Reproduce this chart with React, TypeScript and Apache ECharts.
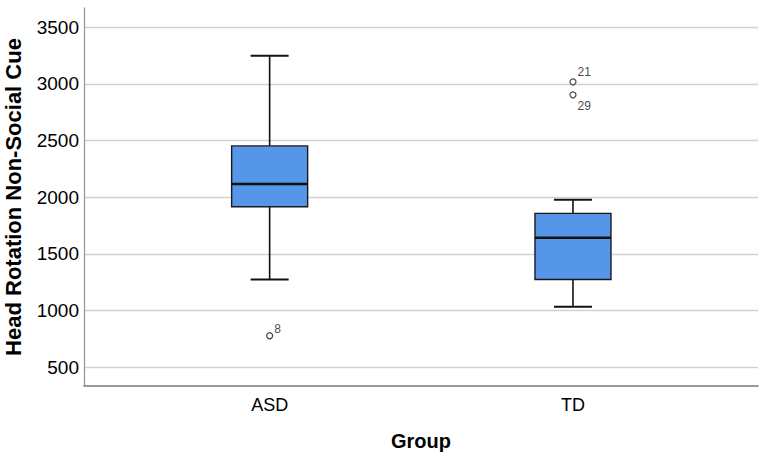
import React, { useEffect, useRef } from "react";
import * as echarts from "echarts";

const categories = ["ASD", "TD"];
// [categoryIndex, lowerWhisker, Q1, median, Q3, upperWhisker]
const boxStats = [
  [0, 1274, 1916, 2116, 2452, 3247],
  [1, 1033, 1274, 1642, 1857, 1977],
];
// outliers: [categoryIndex, value, caseLabel]
const outliers: [number, number, string][] = [
  [0, 778, "8"],
  [1, 3017, "21"],
  [1, 2902, "29"],
];
const yTicks = [500, 1000, 1500, 2000, 2500, 3000, 3500];
const xTicks = [0, 1];

export default function App() {
  const ref = useRef<HTMLDivElement>(null);
  useEffect(() => {
    if (!ref.current) return;
    const chart = echarts.init(ref.current, undefined, { renderer: "svg" });
    const font = "'Liberation Sans', Arial, sans-serif";
    const labelOffsets: Record<string, [number, number]> = {
      "8": [0, -7],
      "21": [0, -10],
      "29": [0, 11],
    };
    chart.setOption({
      animation: false,
      backgroundColor: "#ffffff",
      grid: {
        left: 84,
        right: 7,
        top: 8,
        bottom: 76,
        containLabel: false,
        outerBoundsMode: "none",
      },
      xAxis: {
        type: "value",
        min: -0.612,
        max: 1.61,
        name: "Group",
        nameLocation: "middle",
        nameGap: 45,
        nameTextStyle: { fontFamily: font, fontSize: 20, fontWeight: "bold", color: "#000" },
        axisLine: { show: true, onZero: false, lineStyle: { color: "#7a7a7a", width: 1.5 } },
        axisTick: { show: false, customValues: xTicks },
        splitLine: { show: false },
        axisLabel: {
          customValues: xTicks,
          formatter: (v: number) => categories[Math.round(v)] ?? "",
          fontFamily: font,
          fontSize: 18,
          color: "#000",
          margin: 10,
        },
      },
      yAxis: {
        type: "value",
        min: 335,
        max: 3668,
        name: "Head Rotation Non-Social Cue",
        nameLocation: "middle",
        nameGap: 60,
        nameTextStyle: { fontFamily: font, fontSize: 22, fontWeight: "bold", color: "#000" },
        axisLine: { show: true, onZero: false, lineStyle: { color: "#9a9a9a", width: 1.3 } },
        axisTick: { show: false, customValues: yTicks },
        axisLabel: {
          customValues: yTicks,
          formatter: (v: number) => String(v),
          fontFamily: font,
          fontSize: 19,
          color: "#000",
          margin: 5,
        },
        splitLine: { show: true, lineStyle: { color: "#d2d2d2", width: 1.3 } },
      },
      series: [
        {
          type: "custom",
          data: boxStats,
          encode: { x: 0, y: [1, 2, 3, 4, 5] },
          renderItem: (params: any, api: any) => {
            const x = api.value(0);
            const low = api.coord([x, api.value(1)]);
            const q1 = api.coord([x, api.value(2)]);
            const med = api.coord([x, api.value(3)]);
            const q3 = api.coord([x, api.value(4)]);
            const high = api.coord([x, api.value(5)]);
            const cx = low[0];
            const bw = 76;
            const cw = 38;
            const ls = { stroke: "#111", lineWidth: 1.6 };
            return {
              type: "group",
              children: [
                { type: "line", shape: { x1: cx, y1: high[1], x2: cx, y2: q3[1] }, style: ls },
                { type: "line", shape: { x1: cx, y1: q1[1], x2: cx, y2: low[1] }, style: ls },
                { type: "line", shape: { x1: cx - cw / 2, y1: high[1], x2: cx + cw / 2, y2: high[1] }, style: { stroke: "#111", lineWidth: 2 } },
                { type: "line", shape: { x1: cx - cw / 2, y1: low[1], x2: cx + cw / 2, y2: low[1] }, style: { stroke: "#111", lineWidth: 2 } },
                {
                  type: "rect",
                  shape: { x: cx - bw / 2, y: q3[1], width: bw, height: q1[1] - q3[1] },
                  style: { fill: "#5596e8", stroke: "#1a1a1a", lineWidth: 1.4 },
                },
                { type: "line", shape: { x1: cx - bw / 2, y1: med[1], x2: cx + bw / 2, y2: med[1] }, style: { stroke: "#111", lineWidth: 2.4 } },
              ],
            };
          },
        },
        {
          type: "scatter",
          symbol: "circle",
          symbolSize: 6,
          itemStyle: { color: "#ffffff", borderColor: "#111", borderWidth: 1.2 },
          label: {
            show: true,
            position: "right",
            distance: 1,
            fontFamily: font,
            fontSize: 12,
            color: "#111",
          },
          data: outliers.map((o) => ({
            value: [o[0], o[1]],
            label: { formatter: o[2], offset: labelOffsets[o[2]] },
          })),
        },
      ],
    });
    return () => chart.dispose();
  }, []);
  return (
    <div
      ref={ref}
      style={{ position: "fixed", left: 0, top: 0, width: 765, height: 462, background: "#fff" }}
    />
  );
}
